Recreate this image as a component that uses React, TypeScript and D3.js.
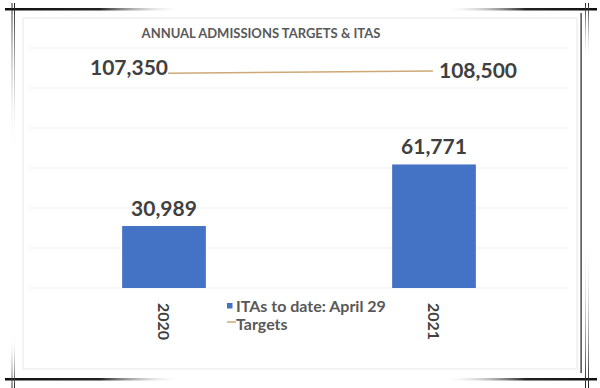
import * as d3 from "d3";

// chart data
const years = ["2020", "2021"];
const itas = [30989, 61771];
const targets = [107350, 108500];
const title = "ANNUAL ADMISSIONS TARGETS & ITAS";
const legendLabels = ["ITAs to date: April 29", "Targets"];

const W = 600;
const H = 388;
const FONT = "Lato, 'Open Sans', sans-serif";
const BAR = "#4472C4";
const GOLD = "#CDA978";

const App = () => {
  const x = d3.scaleBand<string>()
    .domain(years)
    .range([29, 569])
    .paddingInner(0.69)
    .paddingOuter(0.345);

  const y = d3.scaleLinear()
    .domain([0, 120000])
    .range([288, 48]);

  const cx = (yr: string) => (x(yr) ?? 0) + x.bandwidth() / 2;
  const fmt = d3.format(",");

  const targetLine = d3.line<number>()
    .x((d, i) => cx(years[i]))
    .y(d => y(d));

  // clip the line where the data labels sit
  const lineStart = cx(years[0]) + 4;
  const lineEnd = cx(years[1]) - 1;

  return (
    <svg width={W} height={H} style={{ position: "absolute", left: 0, top: 0, background: "#fff" }}>
      <defs>
        <linearGradient id="hfade" x1="0" x2="1" y1="0" y2="0">
          <stop offset="0" stopColor="#111" />
          <stop offset="0.16" stopColor="#222" />
          <stop offset="0.3" stopColor="#fff" stopOpacity="0" />
          <stop offset="0.74" stopColor="#fff" stopOpacity="0" />
          <stop offset="0.88" stopColor="#222" />
          <stop offset="1" stopColor="#111" />
        </linearGradient>
        <linearGradient id="vdown" x1="0" x2="0" y1="0" y2="1">
          <stop offset="0" stopColor="#222" />
          <stop offset="1" stopColor="#fff" stopOpacity="0" />
        </linearGradient>
        <linearGradient id="vup" x1="0" x2="0" y1="0" y2="1">
          <stop offset="0" stopColor="#fff" stopOpacity="0" />
          <stop offset="1" stopColor="#222" />
        </linearGradient>
        <clipPath id="lineClip">
          <rect x={lineStart} y={0} width={lineEnd - lineStart} height={H} />
        </clipPath>
      </defs>

      {/* decorative frame */}
      <rect x={5} y={8} width={592} height={2.5} fill="url(#hfade)" />
      <rect x={5} y={378} width={592} height={2.5} fill="url(#hfade)" />
      <rect x={11.5} y={3} width={1} height={150} fill="url(#vdown)" />
      <rect x={14} y={3} width={1} height={150} fill="url(#vdown)" />
      <rect x={11.5} y={334} width={1} height={54} fill="url(#vup)" />
      <rect x={14} y={334} width={1} height={54} fill="url(#vup)" />
      <rect x={580.5} y={13} width={1.2} height={360} fill="#222" />
      <rect x={585} y={3} width={1} height={60} fill="url(#vdown)" />
      <rect x={588} y={3} width={1} height={60} fill="url(#vdown)" />
      <rect x={585} y={235} width={1} height={153} fill="url(#vup)" />
      <rect x={588} y={235} width={1} height={153} fill="url(#vup)" />

      {/* chart panel */}
      <rect x={23} y={18} width={554} height={351} fill="#fff" stroke="#efefef" strokeWidth={1.5} />

      <text x={261} y={38} textAnchor="middle" fontFamily={FONT} fontWeight={700}
        fontSize={13} fill="#595959">{title}</text>

      {/* gridlines */}
      {y.ticks(6).map(t => (
        <line key={t} x1={29} x2={569} y1={y(t)} y2={y(t)} stroke="#f1f1f1" strokeWidth={1} />
      ))}

      {/* ITA bars */}
      {years.map((yr, i) => (
        <g key={yr}>
          <rect x={x(yr)} y={y(itas[i])} width={x.bandwidth()} height={y(0) - y(itas[i])} fill={BAR} />
          <text x={cx(yr)} y={y(itas[i]) - 10} textAnchor="middle" fontFamily={FONT}
            fontWeight={700} fontSize={21} fill="#404040">{fmt(itas[i])}</text>
          <text transform={`translate(${cx(yr) - 6},${y(0) + 15}) rotate(90)`} fontFamily={FONT}
            fontWeight={700} fontSize={16} fill="#404040">{yr}</text>
        </g>
      ))}

      {/* targets line */}
      <path d={targetLine(targets) ?? ""} fill="none" stroke={GOLD} strokeWidth={1.6} clipPath="url(#lineClip)" />
      <text x={cx(years[0]) + 4} y={y(targets[0]) + 2} textAnchor="end" fontFamily={FONT}
        fontWeight={700} fontSize={21} fill="#404040">{fmt(targets[0])}</text>
      <text x={cx(years[1]) + 5} y={y(targets[1]) + 7} fontFamily={FONT}
        fontWeight={700} fontSize={21} fill="#404040">{fmt(targets[1])}</text>

      {/* legend */}
      <rect x={227} y={303} width={5.5} height={5.5} fill={BAR} />
      <text x={236} y={312} fontFamily={FONT} fontWeight={700} fontSize={16} fill="#595959">{legendLabels[0]}</text>
      <line x1={227} x2={236} y1={322} y2={322} stroke={GOLD} strokeWidth={1.5} />
      <text x={236} y={330} fontFamily={FONT} fontWeight={700} fontSize={16} fill="#595959">{legendLabels[1]}</text>
    </svg>
  );
};

export default App;
